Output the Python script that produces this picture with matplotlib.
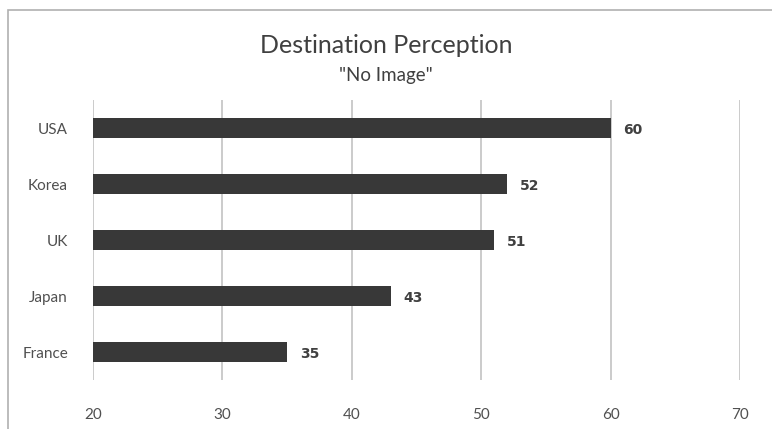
import matplotlib.pyplot as plt
from matplotlib.patches import Rectangle

countries = ['France', 'Japan', 'UK', 'Korea', 'USA']
values = [35, 43, 51, 52, 60]
x_ticks = [20, 30, 40, 50, 60, 70]

plt.rcParams['font.family'] = ['Lato', 'DejaVu Sans']

fig = plt.figure(figsize=(7.72, 4.29), dpi=100)
ax = fig.add_axes([0.1205, 0.1142, 0.838, 0.6527])

# light border around the chart area (cut off on the right and bottom)
fig.patches.append(Rectangle((0.0104, -0.05), 1.2, 0.9767 + 0.05, transform=fig.transFigure,
                             fill=False, edgecolor='#b0b0b0', linewidth=1.2))

ypos = range(len(countries))
ax.barh(ypos, [v - 20 for v in values], left=20, height=0.36, color='#383838', zorder=3)
for y, v in zip(ypos, values):
    ax.text(v + 1, y - 0.03, str(v), va='center', ha='left', fontsize=10, fontweight='bold',
            color='#404040', family=['DejaVu Sans'])

ax.set_xlim(20, 70)
ax.set_ylim(-0.5, 4.5)
ax.set_xticks(x_ticks)
ax.set_yticks(list(ypos))
ax.set_yticklabels(countries)
ax.grid(axis='x', color='#bdbdbd', linewidth=1.1, zorder=0)
for s in ax.spines.values():
    s.set_visible(False)
ax.tick_params(length=0, labelsize=11, colors='#505050')
ax.tick_params(axis='x', pad=20)
ax.tick_params(axis='y', pad=18)

fig.text(0.5, 0.895, 'Destination Perception', ha='center', va='center', fontsize=18, color='#404040')
fig.text(0.5, 0.823, '"No Image"', ha='center', va='center', fontsize=13.5, color='#404040')

fig.savefig('out.png', dpi=100)
